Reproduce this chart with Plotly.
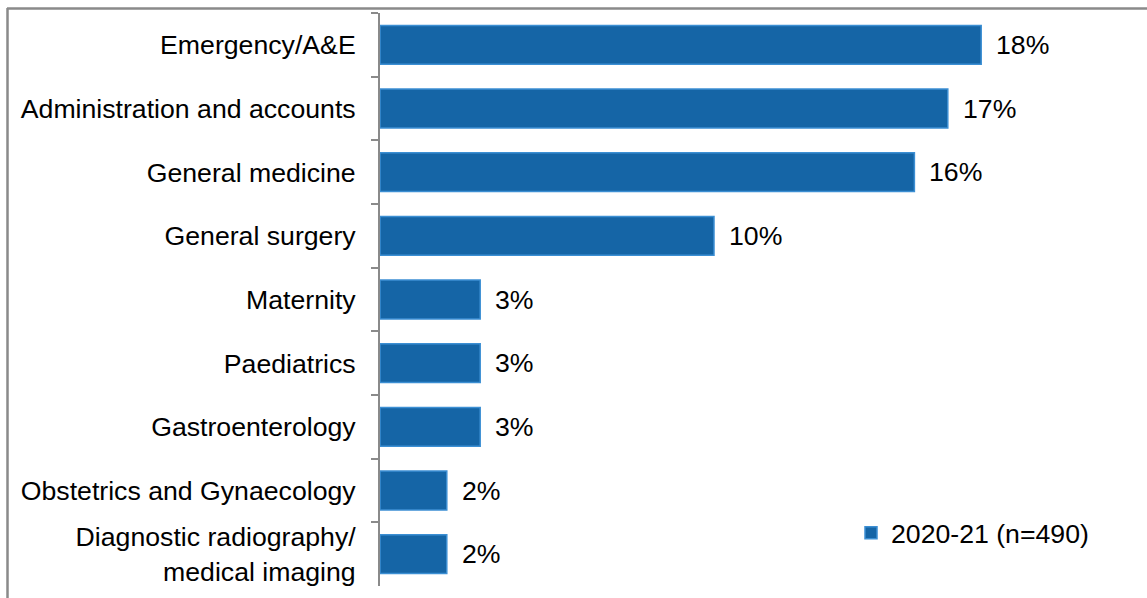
import plotly.graph_objects as go

# Share of responses by specialty, 2020-21
categories = [
    "Emergency/A&E",
    "Administration and accounts",
    "General medicine",
    "General surgery",
    "Maternity",
    "Paediatrics",
    "Gastroenterology",
    "Obstetrics and Gynaecology",
    "Diagnostic radiography/<br>medical imaging",
]
values = [18, 17, 16, 10, 3, 3, 3, 2, 2]
series_name = "2020-21 (n=490)"

W, H = 1147, 598
L, R, T, B = 380, 32, 13, 12
plot_w = W - L - R
plot_h = H - T - B

FONT = "Liberation Sans, Arial, sans-serif"
FS = 26.67
GRAY = "#8a8a8a"

fig = go.Figure()
fig.add_trace(go.Bar(
    x=values,
    y=categories,
    orientation="h",
    name=series_name,
    marker=dict(color="#1565A6", line=dict(color="#3C8FD3", width=1.5)),
    showlegend=True,
))

# value labels just past the bar ends
for c, v in zip(categories, values):
    fig.add_annotation(
        x=v, y=c, text=f"{v}%", showarrow=False,
        xanchor="left", yanchor="middle", xshift=13,
        font=dict(family=FONT, size=FS, color="#000000"),
    )

def px_x(p):
    return (p - L) / plot_w

def px_y(p):
    return (H - B - p) / plot_h

# outer frame (top and left edges)
fig.add_shape(type="line", xref="paper", yref="paper",
              x0=px_x(7), x1=px_x(W + 2), y0=px_y(8.5), y1=px_y(8.5),
              line=dict(color=GRAY, width=2.5))
fig.add_shape(type="line", xref="paper", yref="paper",
              x0=px_x(7.5), x1=px_x(7.5), y0=px_y(8), y1=px_y(H + 2),
              line=dict(color=GRAY, width=2.5))

fig.update_layout(
    width=W, height=H,
    margin=dict(l=L, r=R, t=T, b=B, autoexpand=False),
    paper_bgcolor="white", plot_bgcolor="white",
    bargap=0.39,
    font=dict(family=FONT, size=FS, color="#000000"),
    xaxis=dict(range=[0, plot_w / 33.4], visible=False, showgrid=False, zeroline=False),
    yaxis=dict(
        autorange="reversed",
        showline=True, linecolor=GRAY, linewidth=2,
        ticks="outside", tickson="boundaries", ticklen=7, tickcolor=GRAY, tickwidth=2,
        showgrid=False, zeroline=False,
        ticklabelstandoff=17,
        tickfont=dict(family=FONT, size=FS, color="#000000"),
    ),
    legend=dict(
        x=px_x(851), y=px_y(533), xanchor="left", yanchor="middle",
        bgcolor="rgba(0,0,0,0)",
        font=dict(family=FONT, size=FS, color="#000000"),
    ),
)

fig.write_html("out.html")
